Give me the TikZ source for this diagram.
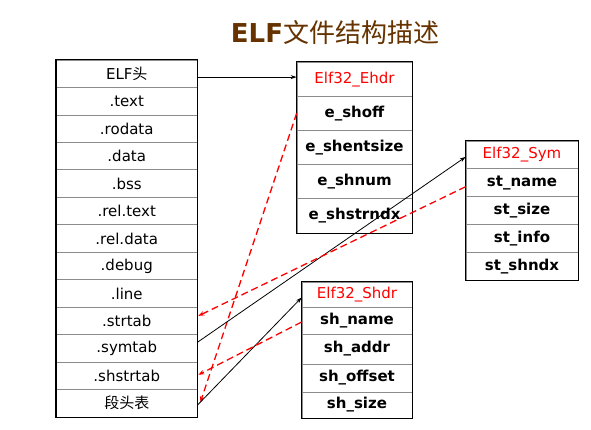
\documentclass[tikz,border=0pt]{standalone}
\usepackage{fontspec}
\setmainfont{DejaVu Sans}
\newfontfamily\cjk{Noto Sans CJK SC}
\usetikzlibrary{arrows.meta,calc}
\definecolor{titlebrown}{RGB}{102,51,0}
\definecolor{rowline}{RGB}{140,140,140}
\definecolor{hdrred}{RGB}{255,0,0}
\begin{document}
\begin{tikzpicture}[x=1pt,y=-1pt,
  base/.style={draw=rowline,line width=0.7pt,inner sep=0pt,font=\fontsize{15}{17}\selectfont},
  lcell/.style={base,minimum width=140.5pt,minimum height=27.46pt},
  ecell/.style={base,minimum width=115pt,minimum height=34.2pt},
  scell/.style={base,minimum width=112pt,minimum height=27.8pt},
  hcell/.style={base,minimum width=110pt,minimum height=#1},
  hdr/.style={text=hdrred},
  fld/.style={font=\fontsize{15}{17}\selectfont\bfseries},
  frame/.style={line width=1.6pt},
  conn/.style={-{Stealth[length=6pt,width=4pt]},line width=0.8pt,black},
  backref/.style={-{Stealth[length=6pt,width=4.5pt]},line width=1.3pt,hdrred,dash pattern=on 7pt off 4pt}
]
\fill[white] (0,0) rectangle (591,429);
\useasboundingbox (0,0) rectangle (591,429);

% title
\node[text=titlebrown,font=\fontsize{26}{30}\selectfont,inner sep=0pt] (title) at (335,33)
  {{\bfseries ELF}{\cjk 文件结构描述}};

% left column
\node[lcell] (l1)  at (126.75,73.73)  {ELF{\cjk 头}};
\node[lcell] (l2)  at (126.75,101.19) {.text};
\node[lcell] (l3)  at (126.75,128.65) {.rodata};
\node[lcell] (l4)  at (126.75,156.11) {.data};
\node[lcell] (l5)  at (126.75,183.57) {.bss};
\node[lcell] (l6)  at (126.75,211.03) {.rel.text};
\node[lcell] (l7)  at (126.75,238.49) {.rel.data};
\node[lcell] (l8)  at (126.75,265.95) {.debug};
\node[lcell] (l9)  at (126.75,293.41) {.line};
\node[lcell] (l10) at (126.75,320.87) {.strtab};
\node[lcell] (l11) at (126.75,348.33) {.symtab};
\node[lcell] (l12) at (126.75,375.79) {.shstrtab};
\node[lcell] (l13) at (126.75,403.25) {{\cjk 段头表}};
\draw[frame] (l1.north west) rectangle (l13.south east);

% Elf32_Ehdr
\node[ecell,hdr] (eh0) at (354.5,79.1)  {Elf32\_Ehdr};
\node[ecell,fld] (eh1) at (354.5,113.3) {e\_shoff};
\node[ecell,fld] (eh2) at (354.5,147.5) {e\_shentsize};
\node[ecell,fld] (eh3) at (354.5,181.7) {e\_shnum};
\node[ecell,fld] (eh4) at (354.5,215.9) {e\_shstrndx};
\draw[frame] (eh0.north west) rectangle (eh4.south east);

% Elf32_Sym
\node[scell,hdr] (sy0) at (522,154.9) {Elf32\_Sym};
\node[scell,fld] (sy1) at (522,182.7) {st\_name};
\node[scell,fld] (sy2) at (522,210.5) {st\_size};
\node[scell,fld] (sy3) at (522,238.3) {st\_info};
\node[scell,fld] (sy4) at (522,266.1) {st\_shndx};
\draw[frame] (sy0.north west) rectangle (sy4.south east);

% Elf32_Shdr
\node[hcell=25pt,hdr] (sh0) at (357,294.5) {Elf32\_Shdr};
\node[hcell=27pt,fld] (sh1) at (357,320.5) {sh\_name};
\node[hcell=30pt,fld] (sh2) at (357,349)   {sh\_addr};
\node[hcell=28pt,fld] (sh3) at (357,378)   {sh\_offset};
\node[hcell=26pt,fld] (sh4) at (357,405)   {sh\_size};
\draw[frame] (sh0.north west) rectangle (sh4.south east);

% connectors
\draw[conn] ($(l1.east |- eh0.west)+(0,-2)$) -- ($(eh0.west)+(0,-2)$);
\draw[backref] (eh1.west) -- ($(l13.east)+(3,-1)$);
\draw[conn] ($(l11.east)+(0,-6)$) -- ($(sy0.west)+(0,2)$);
\draw[backref] ($(sy1.west)+(0,4)$) -- ($(l10.east)+(1,-5)$);
\draw[conn] ($(l13.east)+(0,2)$) -- ($(sh0.west)+(0,3)$);
\draw[backref] ($(sh1.west)+(0,1.5)$) -- ($(l12.east)+(1,-1)$);
\end{tikzpicture}
\end{document}
